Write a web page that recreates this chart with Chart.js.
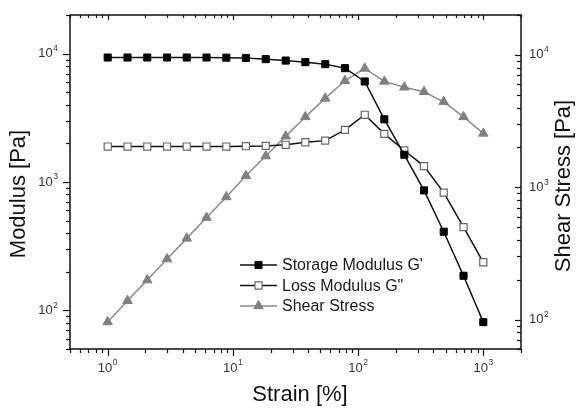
<!DOCTYPE html>
<html>
<head>
<meta charset="utf-8">
<script src="https://cdn.jsdelivr.net/npm/chart.js@4/dist/chart.umd.min.js"></script>
<style>
  body { margin: 0; background: #fff; }
  #wrap { width: 578px; height: 408px; }
</style>
</head>
<body>
<div id="wrap"><canvas id="c"></canvas></div>
<script>
// strain [%] values of the sweep
var strain = [1, 1.44, 2.07, 2.98, 4.28, 6.16, 8.86, 12.7, 18.3, 26.4, 37.9, 54.6, 78.5, 113, 162, 234, 336, 483, 695, 1000];
// left axis, Pa
var storageModulus = [9330, 9330, 9330, 9330, 9330, 9330, 9300, 9250, 9060, 8830, 8580, 8280, 7710, 6070, 3080, 1630, 860, 410, 186, 81];
var lossModulus = [1890, 1890, 1890, 1890, 1890, 1890, 1890, 1900, 1910, 1950, 2040, 2100, 2550, 3340, 2370, 1760, 1330, 826, 445, 237];
// right axis, Pa
var shearStress = [96, 139, 199, 287, 411, 590, 845, 1220, 1720, 2430, 3400, 4690, 6370, 7900, 6300, 5690, 5260, 4420, 3400, 2550];

var xLabels = [1, 10, 100, 1000];
var yLabels = [100, 1000, 10000];
var y2Labels = [100, 1000, 10000];

var FONT = '"Liberation Sans", Arial, sans-serif';

function pts(ys) {
  return strain.map(function (x, i) { return { x: x, y: ys[i] }; });
}

// every 1..9 x 10^n inside [min, max]
function eachTick(min, max, fn) {
  var lo = Math.floor(Math.log10(min)), hi = Math.ceil(Math.log10(max));
  for (var d = lo; d <= hi; d++) {
    for (var m = 1; m <= 9; m++) {
      var v = m * Math.pow(10, d);
      if (v >= min * 0.9999 && v <= max * 1.0001) fn(v, m === 1);
    }
  }
}

function drawPow(ctx, v, x, y, align) {
  var exp = String(Math.round(Math.log10(v)));
  ctx.font = '13px ' + FONT;
  var wb = ctx.measureText('10').width;
  ctx.font = '8.5px ' + FONT;
  var we = ctx.measureText(exp).width;
  var w = wb + we + 0.5;
  var x0 = align === 'right' ? x - w : (align === 'center' ? x - w / 2 : x);
  ctx.textAlign = 'left';
  ctx.textBaseline = 'middle';
  ctx.font = '13px ' + FONT;
  ctx.fillText('10', x0, y);
  ctx.font = '8.5px ' + FONT;
  ctx.fillText(exp, x0 + wb + 0.5, y - 5);
}

function marker(ctx, ds, x, y) {
  var r = ds.pointRadius;
  ctx.beginPath();
  if (ds.pointStyle === 'triangle') {
    ctx.moveTo(x, y - r);
    ctx.lineTo(x + r * 0.866, y + r * 0.5);
    ctx.lineTo(x - r * 0.866, y + r * 0.5);
    ctx.closePath();
  } else {
    var s = r * Math.SQRT1_2;
    ctx.rect(x - s, y - s, 2 * s, 2 * s);
  }
  ctx.fillStyle = ds.pointBackgroundColor;
  ctx.fill();
  ctx.lineWidth = ds.pointBorderWidth;
  ctx.strokeStyle = ds.pointBorderColor;
  ctx.stroke();
}

var decor = {
  id: 'decor',
  afterDraw: function (chart) {
    var ctx = chart.ctx, a = chart.chartArea;
    var sx = chart.scales.x, sy = chart.scales.y, sy2 = chart.scales.y2;
    ctx.save();

    function seg(x1, y1, x2, y2) {
      ctx.beginPath(); ctx.moveTo(x1, y1); ctx.lineTo(x2, y2); ctx.stroke();
    }

    ctx.strokeStyle = '#111';
    ctx.lineWidth = 1.2;
    eachTick(sx.min, sx.max, function (v, major) {
      var p = Math.round(sx.getPixelForValue(v)) + 0.5;
      seg(p, a.bottom, p, a.bottom + (major ? 7 : 4));
      seg(p, a.top, p, a.top + (major ? 5 : 3));
    });
    eachTick(sy.min, sy.max, function (v, major) {
      var p = Math.round(sy.getPixelForValue(v)) + 0.5;
      seg(a.left, p, a.left - (major ? 7 : 4), p);
    });
    eachTick(sy2.min, sy2.max, function (v, major) {
      var p = Math.round(sy2.getPixelForValue(v)) + 0.5;
      seg(a.right, p, a.right - (major ? 6 : 4), p);
    });

    ctx.lineWidth = 1.5;
    ctx.strokeRect(a.left, a.top, a.right - a.left, a.bottom - a.top);

    // tick labels
    ctx.fillStyle = '#333';
    xLabels.forEach(function (v) { drawPow(ctx, v, sx.getPixelForValue(v), a.bottom + 19, 'center'); });
    yLabels.forEach(function (v) { drawPow(ctx, v, a.left - 12, sy.getPixelForValue(v), 'right'); });
    y2Labels.forEach(function (v) { drawPow(ctx, v, a.right + 8, sy2.getPixelForValue(v), 'left'); });

    // axis titles
    ctx.fillStyle = '#111';
    ctx.font = '22px ' + FONT;
    ctx.textAlign = 'center';
    ctx.textBaseline = 'middle';
    ctx.fillText('Strain [%]', 300, 395);
    ctx.save();
    ctx.translate(19, 194); ctx.rotate(-Math.PI / 2);
    ctx.fillText('Modulus [Pa]', 0, 0);
    ctx.restore();
    ctx.save();
    ctx.translate(564, 186); ctx.rotate(-Math.PI / 2);
    ctx.fillText('Shear Stress [Pa]', 0, 0);
    ctx.restore();

    // legend inside the plot
    ctx.font = '16px ' + FONT;
    ctx.textAlign = 'left';
    chart.data.datasets.forEach(function (ds, i) {
      var y = 265 + i * 20.5;
      ctx.strokeStyle = ds.borderColor;
      ctx.lineWidth = ds.borderWidth;
      seg(240, y, 277, y);
      marker(ctx, ds, 258.5, y);
      ctx.fillStyle = '#1a1a1a';
      ctx.fillText(ds.label, 282, y + 1);
    });

    ctx.restore();
  }
};

new Chart(document.getElementById('c'), {
  type: 'line',
  data: {
    datasets: [
      {
        label: "Storage Modulus G'",
        data: pts(storageModulus),
        yAxisID: 'y',
        borderColor: '#111',
        borderWidth: 1.5,
        pointStyle: 'rect',
        pointRadius: 5,
        pointBackgroundColor: '#000',
        pointBorderColor: '#000',
        pointBorderWidth: 1
      },
      {
        label: 'Loss Modulus G"',
        data: pts(lossModulus),
        yAxisID: 'y',
        borderColor: '#111',
        borderWidth: 1.5,
        pointStyle: 'rect',
        pointRadius: 5,
        pointBackgroundColor: '#fff',
        pointBorderColor: '#666',
        pointBorderWidth: 1.2
      },
      {
        label: 'Shear Stress',
        data: pts(shearStress),
        yAxisID: 'y2',
        borderColor: '#8a8a8a',
        borderWidth: 1.5,
        pointStyle: 'triangle',
        pointRadius: 5.5,
        pointBackgroundColor: '#808080',
        pointBorderColor: '#808080',
        pointBorderWidth: 1
      }
    ]
  },
  options: {
    responsive: true,
    maintainAspectRatio: false,
    animation: false,
    layout: { padding: { top: 15, left: 0, right: 0, bottom: 0 } },
    plugins: { legend: { display: false }, tooltip: { enabled: false } },
    elements: { line: { tension: 0 } },
    scales: {
      x: {
        type: 'logarithmic', position: 'bottom', min: 0.5, max: 2000,
        ticks: { display: false }, grid: { display: false }, border: { display: false },
        afterFit: function (s) { s.height = 59; }
      },
      y: {
        type: 'logarithmic', position: 'left', min: 50, max: 20000,
        ticks: { display: false }, grid: { display: false }, border: { display: false },
        afterFit: function (s) { s.width = 70; }
      },
      y2: {
        type: 'logarithmic', position: 'right', min: 60, max: 20000,
        ticks: { display: false }, grid: { display: false }, border: { display: false },
        afterFit: function (s) { s.width = 57; }
      }
    }
  },
  plugins: [decor]
});
</script>
</body>
</html>
